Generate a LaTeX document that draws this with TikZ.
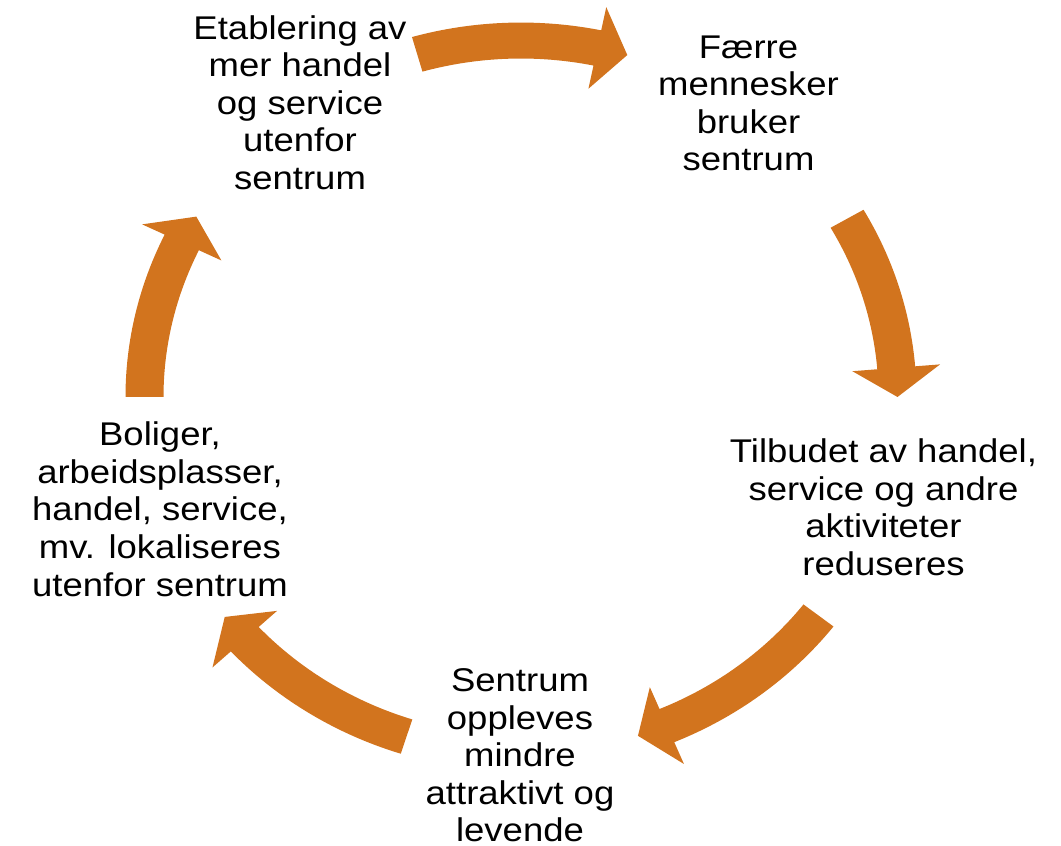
\documentclass[tikz,border=0pt]{standalone}
\usepackage{graphicx}
\usepackage{fontspec}
\setmainfont{Liberation Sans}

\definecolor{cycleorange}{RGB}{210,116,30}

% one line-stack of centred text, slightly condensed vertically
\newcommand\stacklines[1]{\scalebox{1}[0.9]{\begin{tabular}{@{}c@{}}#1\end{tabular}}}

% curved block arrow on the cycle: tail angle, head-base angle, tip angle
\newcommand\cyclearrow[3]{%
  \fill[arrowfill] (#1:395.5) arc[start angle=#1, end angle=#2, radius=395.5]
    -- (#2:420.5) -- (#3:376.5) -- (#2:332.5) -- (#2:357.5)
    arc[start angle=#2, end angle=#1, radius=357.5] -- cycle;}

\begin{document}
\begin{tikzpicture}[x=1pt,y=1pt,
  arrowfill/.style={fill=cycleorange},
  steptext/.style={inner sep=0pt, text=black,
    font=\fontsize{36.5}{41.67}\selectfont}]
  \useasboundingbox (0,0) rectangle (1061,846);

  % the five stages
  \node[steptext] (etablering) at (300,739.2)
    {\stacklines{Etablering av\\mer handel\\og service\\utenfor\\sentrum}};
  \node[steptext] (faerre) at (748.5,739)
    {\stacklines{Færre\\mennesker\\bruker\\sentrum}};
  \node[steptext] (tilbudet) at (883.5,334.5)
    {\stacklines{Tilbudet av handel,\\service og andre\\aktiviteter\\reduseres}};
  % bottom stage sits on the lower edge: hang it from its top, no strut depth
  \node[steptext, anchor=north] (sentrum) at (520,180.75)
    {\raisebox{0pt}[\height][0pt]{\stacklines{Sentrum\\oppleves\\mindre\\attraktivt og\\levende}}};
  \node[steptext] (boliger) at (160,332.5)
    {\stacklines{Boliger,\\arbeidsplasser,\\handel, service,\\mv. lokaliseres\\utenfor sentrum}};

  % block arrows running clockwise round the cycle
  \begin{scope}[shift={(521,449)}, yscale=0.9468]
    \cyclearrow{106}{78.3}{73.6}
    \cyclearrow{30}{4.7}{0}
    \cyclearrow{-37.8}{-67.2}{-71.9}
    \cyclearrow{-107.7}{-137.2}{-141.9}
    \cyclearrow{180}{154.3}{149.6}
  \end{scope}
\end{tikzpicture}
\end{document}
